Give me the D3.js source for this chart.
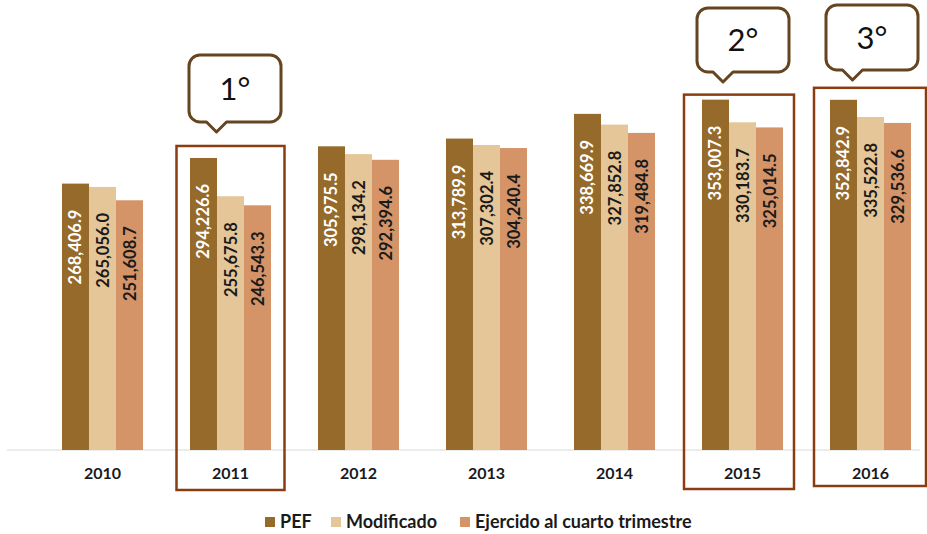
<!DOCTYPE html>
<html>
<head>
<meta charset="utf-8">
<script src="https://cdn.jsdelivr.net/npm/d3@7"></script>
<style>
  body { margin: 0; background: #fff; }
  text { font-family: Lato, "Open Sans", sans-serif; }
</style>
</head>
<body>
<div id="chart"></div>
<script>
var years = ["2010", "2011", "2012", "2013", "2014", "2015", "2016"];
var series = ["PEF", "Modificado", "Ejercido al cuarto trimestre"];
var pef = [268406.9, 294226.6, 305975.5, 313789.9, 338669.9, 353007.3, 352842.9];
var modificado = [265056.0, 255675.8, 298134.2, 307302.4, 327852.8, 330183.7, 335522.8];
var ejercido = [251608.7, 246543.3, 292394.6, 304240.4, 319484.8, 325014.5, 329536.6];
var ranks = [["2011", "1°"], ["2015", "2°"], ["2016", "3°"]];

var width = 927, height = 534;
var colors = ["#956a2a", "#e4c699", "#d49468"];
var labelColors = ["#ffffff", "#1a1a1a", "#1a1a1a"];
var fmt = d3.format(",.1f");

var svg = d3.select("#chart").append("svg")
    .attr("width", width)
    .attr("height", height);

var xScale = d3.scaleBand()
    .domain(years)
    .range([38.5, 934.5])
    .paddingInner(0.367)
    .paddingOuter(0.1835);

var xInner = d3.scaleBand()
    .domain(series)
    .range([0, xScale.bandwidth()]);

var yScale = d3.scaleLinear()
    .domain([0, 400000])
    .range([450, 53]);

var table = years.map(function(y, i) {
  return {year: y, values: [pef[i], modificado[i], ejercido[i]]};
});

// axis line
svg.append("line")
    .attr("x1", 7).attr("x2", 920)
    .attr("y1", yScale(0)).attr("y2", yScale(0))
    .attr("stroke", "#d9d9d9")
    .attr("stroke-width", 1);

var groups = svg.selectAll(".group")
  .data(table)
  .enter().append("g")
    .attr("class", "group")
    .attr("transform", function(d) { return "translate(" + xScale(d.year) + ",0)"; });

groups.selectAll("rect")
  .data(function(d) { return d.values; })
  .enter().append("rect")
    .attr("x", function(d, i) { return xInner(series[i]); })
    .attr("width", xInner.bandwidth())
    .attr("y", function(d) { return yScale(d); })
    .attr("height", function(d) { return yScale(0) - yScale(d); })
    .style("fill", function(d, i) { return colors[i]; });

groups.selectAll(".lbl")
  .data(function(d) { return d.values; })
  .enter().append("text")
    .attr("class", "lbl")
    .attr("transform", function(d, i) {
      var cx = xInner(series[i]) + xInner.bandwidth() / 2;
      return "translate(" + cx + "," + (yScale(d) + 26) + ") rotate(-90)";
    })
    .attr("text-anchor", "end")
    .attr("dominant-baseline", "central")
    .style("font-size", "16.5px")
    .style("font-weight", "bold")
    .style("fill", function(d, i) { return labelColors[i]; })
    .text(function(d) { return fmt(d); });

// year labels
svg.selectAll(".year")
  .data(years)
  .enter().append("text")
    .attr("class", "year")
    .attr("x", function(d) { return xScale(d) + xScale.bandwidth() / 2; })
    .attr("y", 479)
    .attr("text-anchor", "middle")
    .style("font-size", "16px")
    .style("font-weight", "bold")
    .style("fill", "#1a1a1a")
    .text(function(d) { return d; });

// highlight boxes and callouts
var boxLayout = {
  "2011": {padTop: 12, bottom: 490, w: 108, dx: 0, cTop: 55, cH: 67, cLeft: -41.5, tip: -14},
  "2015": {padTop: 5, bottom: 489, w: 110, dx: -3.5, cTop: 8, cH: 64, cLeft: -45.5, tip: -19.5},
  "2016": {padTop: 12, bottom: 486, w: 112, dx: -0.5, cTop: 5, cH: 65, cLeft: -44.5, tip: -18}
};

ranks.forEach(function(r) {
  var yr = r[0], L = boxLayout[yr];
  var i = years.indexOf(yr);
  var cx = xScale(yr) + xScale.bandwidth() / 2;
  var top = yScale(pef[i]) - L.padTop;

  svg.append("rect")
      .attr("x", cx + L.dx - L.w / 2)
      .attr("y", top)
      .attr("width", L.w)
      .attr("height", L.bottom - top)
      .attr("fill", "none")
      .attr("stroke", "#8b3d12")
      .attr("stroke-width", 2.5);

  var x0 = cx + L.cLeft, x1 = x0 + 92, y0 = L.cTop, y1 = L.cTop + L.cH, rr = 11;
  var tx = cx + L.tip;
  var p = d3.path();
  p.moveTo(x0 + rr, y0);
  p.lineTo(x1 - rr, y0);
  p.arcTo(x1, y0, x1, y0 + rr, rr);
  p.lineTo(x1, y1 - rr);
  p.arcTo(x1, y1, x1 - rr, y1, rr);
  p.lineTo(tx + 10, y1);
  p.lineTo(tx, y1 + 10);
  p.lineTo(tx - 10, y1);
  p.lineTo(x0 + rr, y1);
  p.arcTo(x0, y1, x0, y1 - rr, rr);
  p.lineTo(x0, y0 + rr);
  p.arcTo(x0, y0, x0 + rr, y0, rr);
  p.closePath();

  svg.append("path")
      .attr("d", p.toString())
      .attr("fill", "#fff")
      .attr("stroke", "#654520")
      .attr("stroke-width", 3)
      .attr("stroke-linejoin", "round");

  svg.append("text")
      .attr("x", (x0 + x1) / 2)
      .attr("y", y0 + L.cH / 2 + 11)
      .attr("text-anchor", "middle")
      .style("font-size", "31px")
      .style("fill", "#111")
      .text(r[1]);
});

// legend
var legendX = [265, 331, 460];
var legend = svg.selectAll(".legend")
  .data(series)
  .enter().append("g")
    .attr("class", "legend")
    .attr("transform", function(d, i) { return "translate(" + legendX[i] + ",517)"; });

legend.append("rect")
    .attr("width", 10).attr("height", 10)
    .style("fill", function(d, i) { return colors[i]; });

legend.append("text")
    .attr("x", 15)
    .attr("y", 11)
    .style("font-size", "18px")
    .style("font-weight", "bold")
    .style("fill", "#1a1a1a")
    .text(function(d) { return d; });
</script>
</body>
</html>
